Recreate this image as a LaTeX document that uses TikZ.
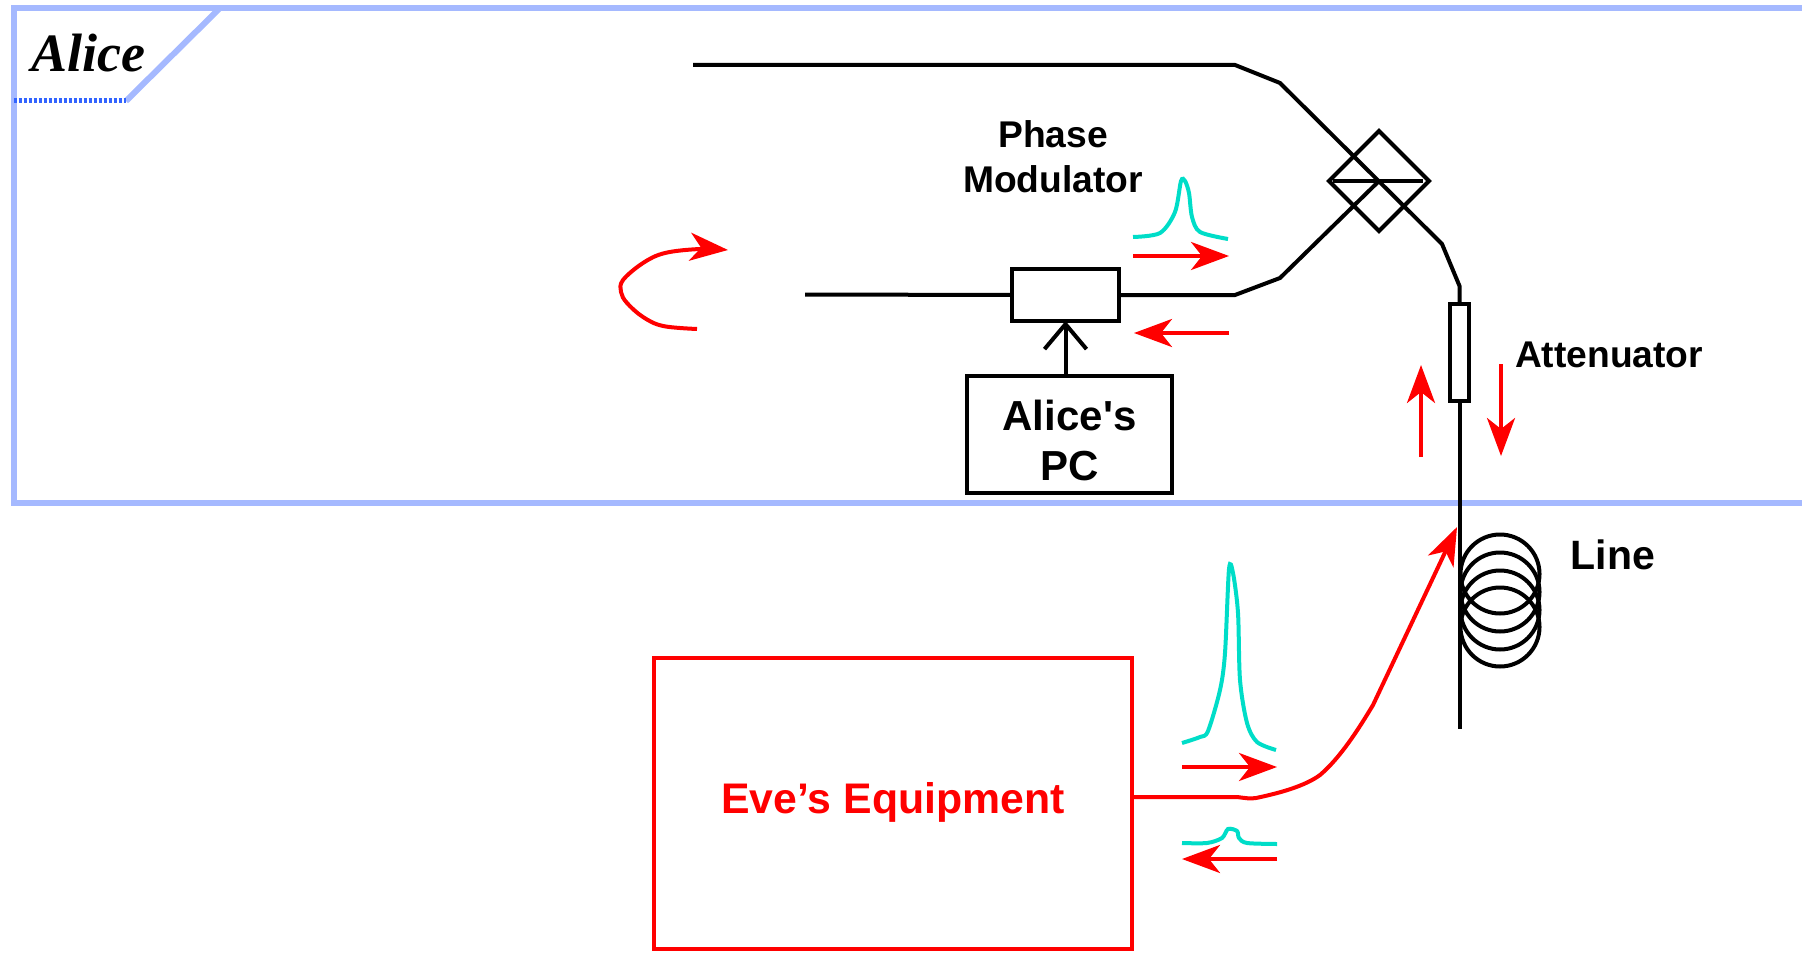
\documentclass[tikz,border=0pt]{standalone}
\usepackage{fontspec}
\setmainfont{Liberation Sans}
\newfontfamily\tagfont{Liberation Serif}
\definecolor{FrameBlue}{RGB}{165,185,255}
\definecolor{TagBlue}{RGB}{50,100,255}
\definecolor{PulseCyan}{RGB}{0,221,200}
\usetikzlibrary{shapes.geometric,arrows.meta}

\begin{document}
\begin{tikzpicture}[
      x=0.5pt, y=-0.5pt,
      every node/.style={inner sep=0pt, outer sep=0pt, align=center},
      frameline/.style={draw=FrameBlue, line width=3pt},
      fibre/.style={draw=black, line width=2pt},
      box/.style={draw=black, line width=2pt, fill=white},
      caption/.style={font=\bfseries\fontsize{18.6}{22.4}\selectfont},
      pclabel/.style={font=\bfseries\fontsize{21}{24.7}\selectfont},
      redline/.style={draw=red, line width=2pt},
      redarrow/.style={redline, -{Stealth[length=19pt, width=14pt, inset=5.5pt]}},
      pulse/.style={draw=PulseCyan, line width=2pt}
    ]
      \useasboundingbox (0,0) rectangle (1802,952);

      \draw[frameline] (1802,8) -- (13.5,8) -- (13.5,503) -- (1802,503);
      \draw[frameline] (220,8) -- (126,101);
      \draw[draw=TagBlue, line width=2.5pt, dash pattern=on 1.5pt off 1pt] (13.5,101) -- (126,101);
      \node[font=\tagfont\bfseries\itshape\fontsize{27}{30}\selectfont] (alice) at (88,53) {Alice};

      \coordinate (topend) at (693,65);
      \coordinate (topbend1) at (1235,65);
      \coordinate (topbend2) at (1280,83);
      \coordinate (linebend1) at (1442,244);
      \coordinate (linebend2) at (1459.5,286);
      \coordinate (lowbend1) at (1235,295);
      \coordinate (lowbend2) at (1280,278);
      \coordinate (stubend) at (805,294.5);
      \coordinate (lineend) at (1459.5,729);
      \coordinate (mirrorleft) at (1333,181);
      \coordinate (mirrorright) at (1423,181);

      \node[diamond, draw=black, line width=2pt, minimum width=50pt, minimum height=50pt] (splitter) at (1379,181) {};
      \node[box, minimum width=53.5pt, minimum height=26pt] (modulator) at (1065.5,295) {};
      \node[box, minimum width=9.5pt, minimum height=48.5pt] (attenuator) at (1459.5,352.5) {};
      \node[box, minimum width=102.5pt, minimum height=58.5pt,
        label={[pclabel, yshift=-2.9pt]center:Alice\textquotesingle s\\PC}] (pc) at (1069.5,434.5) {};

      \draw[fibre] (topend) -- (topbend1) -- (topbend2) -- (linebend1) -- (linebend2) -- (attenuator.north);
      \draw[fibre] (modulator.east) -- (lowbend1) -- (lowbend2) -- (splitter.center);
      \draw[fibre] (mirrorleft) -- (mirrorright);
      \draw[fibre] (stubend) -- (modulator.west);
      \draw[fibre] (attenuator.south) -- (lineend);
      \draw[fibre, -{Straight Barb[length=12.5pt, width=21pt]}] (modulator.south |- pc.north) -- (modulator.south);

      \node[caption] (phase) at (1053,157) {Phase\\Modulator};
      \node[caption] (attlabel) at (1609,355) {Attenuator};

      \foreach \coilY in {574,592,610,627} {
        \draw[fibre] (1500,\coilY) circle (39.5);
      }
      \node[font=\bfseries\fontsize{20.5}{24}\selectfont] (linelabel) at (1613,555) {Line};

      \node[draw=red, line width=2pt, minimum width=239pt, minimum height=145.5pt,
        label={[text=red, yshift=0.7pt, font=\bfseries\fontsize{21.4}{24}\selectfont]center:Eve’s Equipment}] (eve) at (893,803.5) {};

      \coordinate (evetip) at (1457,527);
      \draw[redarrow] (1133,797) -- (1237,797) .. controls (1245,798) and (1250,799) .. (1256,798)
        .. controls (1280,793) and (1305,786) .. (1320,775)
        .. controls (1340,758) and (1358,730) .. (1373,705) -- (evetip);

      \draw[pulse] plot[smooth, tension=0.5] coordinates {(1133,237) (1160,233) (1175,212) (1181,181) (1185,181) (1189,193) (1192,217) (1200,232) (1228,239)};
      \draw[pulse] plot[smooth, tension=0.5] coordinates {(1182,743) (1200,737) (1208,731) (1220,690) (1225,653) (1229,569) (1233,573) (1238,613) (1240,680) (1247,723) (1257,742) (1276,750)};
      \draw[pulse] plot[smooth, tension=0.5] coordinates {(1182,843) (1207,843) (1222,838) (1228,829) (1237,831) (1239,838) (1247,843) (1277,844)};

      \coordinate (outfrom) at (1133,256);
      \coordinate (outto) at (1229,256);
      \coordinate (backfrom) at (1229,333);
      \coordinate (backto) at (1134,333);
      \draw[redarrow] (outfrom) -- (outto);
      \draw[redarrow] (backfrom) -- (backto);
      \draw[redarrow] (1421,457) -- (1421,365);
      \draw[redarrow] (1501,364) -- (1501,456);
      \draw[redarrow] (1182,767) -- (1277,767);
      \draw[redarrow] (1277,859) -- (1182,859);
      \draw[redarrow] plot[smooth, tension=0.6] coordinates {(697,329) (663,326) (643,317) (627,303) (621,292) (623,280) (643,263) (665,253) (700,249) (728,250)};
    \end{tikzpicture}
\end{document}
